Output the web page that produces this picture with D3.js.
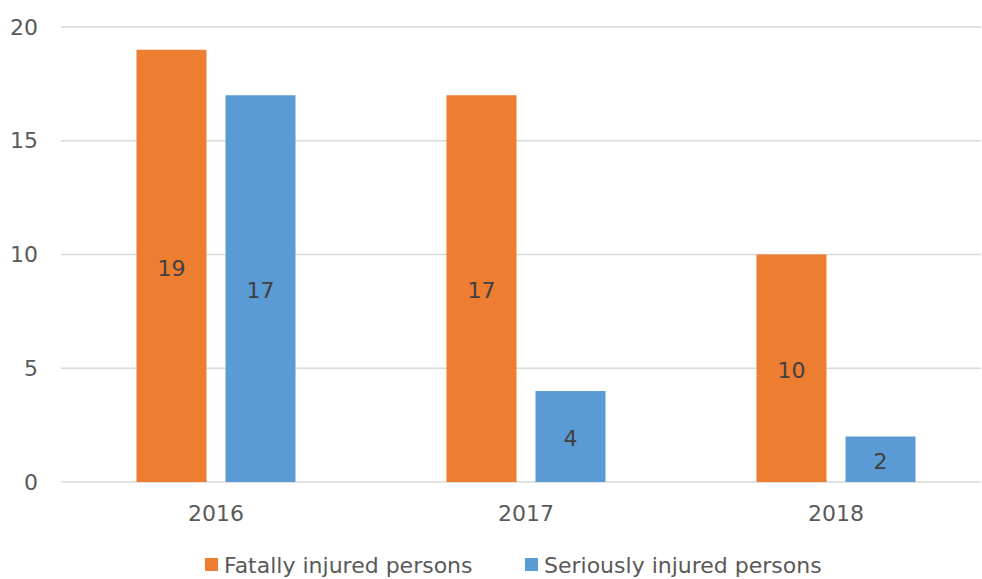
<!DOCTYPE html>
<html><head><meta charset="utf-8">
<script src="https://cdn.jsdelivr.net/npm/d3@7"></script>
<style>body{margin:0;background:#fff}svg{display:block;font-family:"DejaVu Sans",sans-serif}</style>
</head><body><svg id="c" width="982" height="579"></svg>
<script>
const categories = ["2016", "2017", "2018"];
const seriesNames = ["Fatally injured persons", "Seriously injured persons"];
const fatal = [19, 17, 10];
const serious = [17, 4, 2];
const yTicks = [0, 5, 10, 15, 20];
const colors = ["#ED7D31", "#5B9BD5"];
const seriesValues = [fatal, serious];

const svg = d3.select("#c");
const L = 61, R = 981, T = 27, B = 482;
const FS = 22;
const x0 = d3.scaleBand().domain(categories).range([61, 991]).padding(0);
const x1 = d3.scaleBand().domain(d3.range(seriesNames.length)).range([0, x0.bandwidth()]).paddingInner(0.2135).paddingOuter(0.848);
const y = d3.scaleLinear().domain([0, 20]).range([B, T]);

// gridlines
svg.append("g").selectAll("line").data(yTicks).join("line")
  .attr("x1", L).attr("x2", R).attr("y1", d => y(d)).attr("y2", d => y(d))
  .attr("stroke", "#D9D9D9").attr("stroke-width", 1.3);

// y axis labels
const yAxis = d3.axisLeft(y).tickValues(yTicks).tickSize(0).tickPadding(0);
const ya = svg.append("g").attr("transform", `translate(${38},0)`).call(yAxis);
ya.select(".domain").remove();
ya.selectAll("text").attr("font-size", FS).attr("fill", "#595959").attr("font-family", "DejaVu Sans, sans-serif");

// x axis labels
const xAxis = d3.axisBottom(x0).tickSize(0).tickPadding(0);
const xa = svg.append("g").attr("transform", `translate(0,${B})`).call(xAxis);
xa.select(".domain").remove();
xa.selectAll("text").attr("y", 31).attr("dy", "0.35em").attr("font-size", FS).attr("fill", "#595959").attr("font-family", "DejaVu Sans, sans-serif");

// bars
seriesValues.forEach((vals, si) => {
  const g = svg.append("g");
  g.selectAll("rect").data(vals).join("rect")
    .attr("x", (d, i) => x0(categories[i]) + x1(si))
    .attr("width", x1.bandwidth())
    .attr("y", d => y(d))
    .attr("height", d => y(0) - y(d))
    .attr("fill", colors[si]);
  g.selectAll("text").data(vals).join("text")
    .attr("x", (d, i) => x0(categories[i]) + x1(si) + x1.bandwidth() / 2)
    .attr("y", d => (y(d) + y(0)) / 2 + 2)
    .attr("dy", "0.35em")
    .attr("text-anchor", "middle")
    .attr("font-size", FS).attr("fill", "#404040")
    .text(d => d);
});

// legend
const legendX = [205, 525];
seriesNames.forEach((n, i) => {
  svg.append("rect").attr("x", legendX[i]).attr("y", 558).attr("width", 13).attr("height", 13).attr("fill", colors[i]);
  svg.append("text").attr("x", legendX[i] + 19).attr("y", 565).attr("dy", "0.35em")
    .attr("font-size", FS).attr("fill", "#595959").text(n);
});
</script></body></html>
